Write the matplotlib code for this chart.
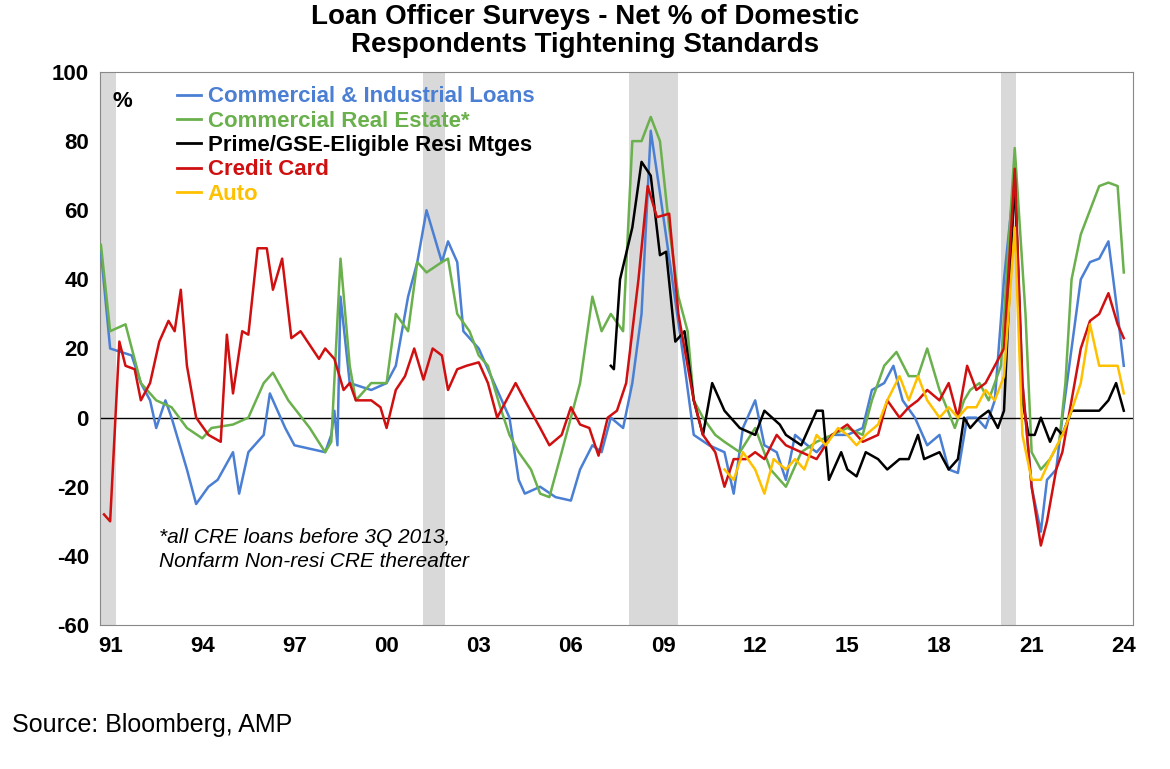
import matplotlib.pyplot as plt
from matplotlib.lines import Line2D

plt.rcParams['font.family'] = ['Liberation Sans', 'DejaVu Sans']
plt.rcParams['axes.unicode_minus'] = False

# quarterly-ish readings (decimal year, net %)
ci_x = [1990.7, 1991.0, 1991.7, 1992.0, 1992.3, 1992.5, 1992.8, 1993.0, 1993.5, 1993.8, 1994.2, 1994.5, 1995.0, 1995.2,
        1995.5, 1996.0, 1996.2, 1996.7, 1997.0, 1997.5, 1998.0, 1998.2, 1998.3, 1998.4, 1998.5, 1998.8, 1999.5, 2000.0,
        2000.3, 2000.7, 2001.0, 2001.3, 2001.8, 2002.0, 2002.3, 2002.5, 2003.0, 2003.5, 2004.0, 2004.3, 2004.5, 2005.0,
        2005.5, 2006.0, 2006.3, 2006.7, 2007.0, 2007.3, 2007.7, 2008.0, 2008.3, 2008.6, 2008.9, 2009.3, 2009.7, 2010.0,
        2010.5, 2011.0, 2011.3, 2011.6, 2012.0, 2012.3, 2012.7, 2013.0, 2013.3, 2013.7, 2014.0, 2014.5, 2015.0, 2015.5,
        2015.8, 2016.2, 2016.5, 2016.8, 2017.2, 2017.6, 2018.0, 2018.3, 2018.6, 2018.9, 2019.2, 2019.5, 2019.8, 2020.1,
        2020.45, 2020.7, 2021.0, 2021.3, 2021.5, 2021.8, 2022.0, 2022.3, 2022.6, 2022.9, 2023.2, 2023.5, 2023.8, 2024.0]
ci_y = [48, 20, 18, 10, 5, -3, 5, 0, -15, -25, -20, -18, -10, -22,
        -10, -5, 7, -3, -8, -9, -10, -5, 2, -8, 35, 10, 8, 10,
        15, 35, 45, 60, 45, 51, 45, 25, 20, 10, 0, -18, -22, -20,
        -23, -24, -15, -8, -10, 0, -3, 10, 30, 83, 65, 40, 15, -5,
        -8, -10, -22, -3, 5, -8, -10, -18, -5, -8, -10, -5, -5, -3,
        8, 10, 15, 5, 0, -8, -5, -15, -16, 0, 0, -3, 5, 40,
        70, 10, -20, -33, -18, -15, 0, 20, 40, 45, 46, 51, 30, 15]

cre_x = [1990.7, 1991.0, 1991.5, 1992.0, 1992.5, 1993.0, 1993.5, 1994.0, 1994.3, 1995.0, 1995.5, 1996.0, 1996.3, 1996.8,
         1997.5, 1998.0, 1998.2, 1998.5, 1998.8, 1999.0, 1999.5, 2000.0, 2000.3, 2000.7, 2001.0, 2001.3, 2001.8, 2002.0,
         2002.3, 2002.7, 2003.0, 2003.3, 2003.7, 2004.0, 2004.3, 2004.7, 2005.0, 2005.3, 2005.7, 2006.0, 2006.3, 2006.7,
         2007.0, 2007.3, 2007.7, 2008.0, 2008.3, 2008.6, 2008.9, 2009.2, 2009.5, 2009.8, 2010.0, 2010.3, 2010.7, 2011.0,
         2011.5, 2012.0, 2012.5, 2013.0, 2013.5, 2014.0, 2014.5, 2015.0, 2015.5, 2015.8, 2016.2, 2016.6, 2017.0, 2017.3,
         2017.6, 2018.0, 2018.5, 2018.8, 2019.0, 2019.3, 2019.6, 2019.8, 2020.0, 2020.45, 2020.8, 2021.0, 2021.3, 2021.6,
         2021.9, 2022.1, 2022.3, 2022.6, 2022.9, 2023.2, 2023.5, 2023.8, 2024.0]
cre_y = [50, 25, 27, 10, 5, 3, -3, -6, -3, -2, 0, 10, 13, 5,
         -3, -10, -7, 46, 15, 5, 10, 10, 30, 25, 45, 42, 45, 46,
         30, 25, 18, 15, 3, -5, -10, -15, -22, -23, -10, 0, 10, 35,
         25, 30, 25, 80, 80, 87, 80, 55, 35, 25, 5, 0, -5, -7,
         -10, -3, -15, -20, -10, -7, -5, -3, -5, 5, 15, 19, 12, 12,
         20, 8, -3, 5, 8, 10, 5, 10, 15, 78, 30, -10, -15, -12,
         -7, 10, 40, 53, 60, 67, 68, 67, 42]

resi_x = [2007.3, 2007.4, 2007.6, 2008.0, 2008.3, 2008.6, 2008.9, 2009.1, 2009.4, 2009.7, 2010.0, 2010.3, 2010.6, 2011.0,
          2011.5, 2012.0, 2012.3, 2012.8, 2013.0, 2013.5, 2014.0, 2014.2, 2014.4, 2014.8, 2015.0, 2015.3, 2015.6, 2016.0,
          2016.3, 2016.7, 2017.0, 2017.3, 2017.5, 2018.0, 2018.3, 2018.6, 2018.8, 2019.0, 2019.3, 2019.6, 2019.9, 2020.1,
          2020.45, 2020.7, 2020.9, 2021.1, 2021.3, 2021.6, 2021.8, 2022.0, 2022.3, 2022.6, 2022.9, 2023.2, 2023.5, 2023.75,
          2024.0]
resi_y = [15, 14, 40, 55, 74, 70, 47, 48, 22, 25, 5, -5, 10, 2,
          -3, -5, 2, -2, -5, -8, 2, 2, -18, -10, -15, -17, -10, -12,
          -15, -12, -12, -5, -12, -10, -15, -12, 0, -3, 0, 2, -3, 2,
          70, 5, -5, -5, 0, -7, -3, -5, 2, 2, 2, 2, 5, 10,
          2]

cc_x = [1990.8, 1991.0, 1991.3, 1991.5, 1991.8, 1992.0, 1992.3, 1992.6, 1992.9, 1993.1, 1993.3, 1993.5, 1993.8, 1994.2,
        1994.6, 1994.8, 1995.0, 1995.3, 1995.5, 1995.8, 1996.1, 1996.3, 1996.6, 1996.9, 1997.2, 1997.5, 1997.8, 1998.0,
        1998.3, 1998.6, 1998.8, 1999.0, 1999.5, 1999.8, 2000.0, 2000.3, 2000.6, 2000.9, 2001.2, 2001.5, 2001.8, 2002.0,
        2002.3, 2002.6, 2003.0, 2003.3, 2003.6, 2003.9, 2004.2, 2004.5, 2005.0, 2005.3, 2005.7, 2006.0, 2006.3, 2006.6,
        2006.9, 2007.2, 2007.5, 2007.8, 2008.2, 2008.5, 2008.8, 2009.2, 2009.5, 2009.8, 2010.0, 2010.3, 2010.7, 2011.0,
        2011.3, 2011.7, 2012.0, 2012.3, 2012.7, 2013.0, 2013.5, 2014.0, 2014.5, 2015.0, 2015.5, 2016.0, 2016.3, 2016.7,
        2017.0, 2017.3, 2017.6, 2018.0, 2018.3, 2018.6, 2018.9, 2019.2, 2019.5, 2019.8, 2020.1, 2020.45, 2020.7, 2021.0,
        2021.3, 2021.5, 2021.8, 2022.0, 2022.3, 2022.6, 2022.9, 2023.2, 2023.5, 2023.8, 2024.0]
cc_y = [-28, -30, 22, 15, 14, 5, 10, 22, 28, 25, 37, 15, 0, -5,
        -7, 24, 7, 25, 24, 49, 49, 37, 46, 23, 25, 21, 17, 20,
        17, 8, 10, 5, 5, 3, -3, 8, 12, 20, 11, 20, 18, 8,
        14, 15, 16, 10, 0, 5, 10, 5, -3, -8, -5, 3, -2, -3,
        -11, 0, 2, 10, 40, 67, 58, 59, 30, 15, 5, -5, -10, -20,
        -12, -12, -10, -12, -5, -8, -10, -12, -5, -2, -7, -5, 5, 0,
        3, 5, 8, 5, 10, 0, 15, 8, 10, 15, 20, 72, 10, -20,
        -37, -30, -15, -10, 5, 20, 28, 30, 36, 27, 23]

auto_x = [2011.0, 2011.3, 2011.6, 2012.0, 2012.3, 2012.6, 2013.0, 2013.3, 2013.6, 2014.0, 2014.3, 2014.7, 2015.0, 2015.3,
          2015.6, 2016.0, 2016.3, 2016.7, 2017.0, 2017.3, 2017.6, 2018.0, 2018.3, 2018.6, 2018.9, 2019.2, 2019.5, 2019.8,
          2020.1, 2020.45, 2020.7, 2021.0, 2021.3, 2021.6, 2022.0, 2022.3, 2022.6, 2022.9, 2023.2, 2023.5, 2023.8, 2024.0]
auto_y = [-15, -18, -10, -15, -22, -12, -15, -12, -15, -5, -8, -3, -5, -8,
          -5, -2, 5, 12, 5, 12, 5, 0, 3, 0, 3, 3, 8, 5,
          12, 55, -5, -18, -18, -12, -5, 2, 10, 27, 15, 15, 15, 7]

recessions = [(1990.7, 1991.2), (2001.2, 2001.9), (2007.9, 2009.5), (2020.0, 2020.5)]
tick_years = list(range(1991, 2025, 3))
tick_labels = [f"{y % 100:02d}" for y in tick_years]

series = [
    ("Commercial & Industrial Loans", ci_x, ci_y, "#4a7fd4"),
    ("Commercial Real Estate*", cre_x, cre_y, "#6ab04c"),
    ("Prime/GSE-Eligible Resi Mtges", resi_x, resi_y, "black"),
    ("Credit Card", cc_x, cc_y, "#d01010"),
    ("Auto", auto_x, auto_y, "#ffc000"),
]

fig = plt.figure(figsize=(11.7, 7.69), dpi=100)
ax = fig.add_axes([100 / 1170, 1 - 625 / 769, 1033 / 1170, 553 / 769])

for a, b in recessions:
    ax.axvspan(a, b, color="#d9d9d9", lw=0, zorder=0)
ax.axhline(0, color="black", lw=1, zorder=1)

for name, x, y, c in series:
    ax.plot(x, y, color=c, lw=1.8, zorder=3)

ax.set_xlim(1990.67, 2024.3)
ax.set_ylim(-60, 100)
ax.set_yticks(range(-60, 101, 20))
ax.set_xticks(tick_years)
ax.set_xticklabels(tick_labels)
ax.tick_params(axis="both", labelsize=16, length=0, pad=8)
for lab in ax.get_xticklabels() + ax.get_yticklabels():
    lab.set_fontweight("bold")
for s in ax.spines.values():
    s.set_color("#888888")

handles = [Line2D([], [], color=c, lw=2) for _, _, _, c in series]
leg = ax.legend(handles, [s[0] for s in series], loc="upper left", bbox_to_anchor=(0.055, 1.01),
                frameon=False, handlelength=1.1, handletextpad=0.3, labelspacing=0.15,
                prop={"size": 16, "weight": "bold"})
for txt, (_, _, _, c) in zip(leg.get_texts(), series):
    txt.set_color(c)

ax.text(0.012, 0.965, "%", transform=ax.transAxes, fontsize=16, fontweight="bold", va="top")
ax.text(0.057, 0.175, "*all CRE loans before 3Q 2013,\nNonfarm Non-resi CRE thereafter",
        transform=ax.transAxes, fontsize=15, style="italic", va="top", linespacing=1.3)

fig.text(0.5, 0.995, "Loan Officer Surveys - Net % of Domestic\nRespondents Tightening Standards",
         ha="center", va="top", fontsize=20, fontweight="bold", linespacing=1.1)
fig.text(0.01, 0.057, "Source: Bloomberg, AMP", fontsize=18, va="center")

fig.savefig("out.png", dpi=100, facecolor="white")
